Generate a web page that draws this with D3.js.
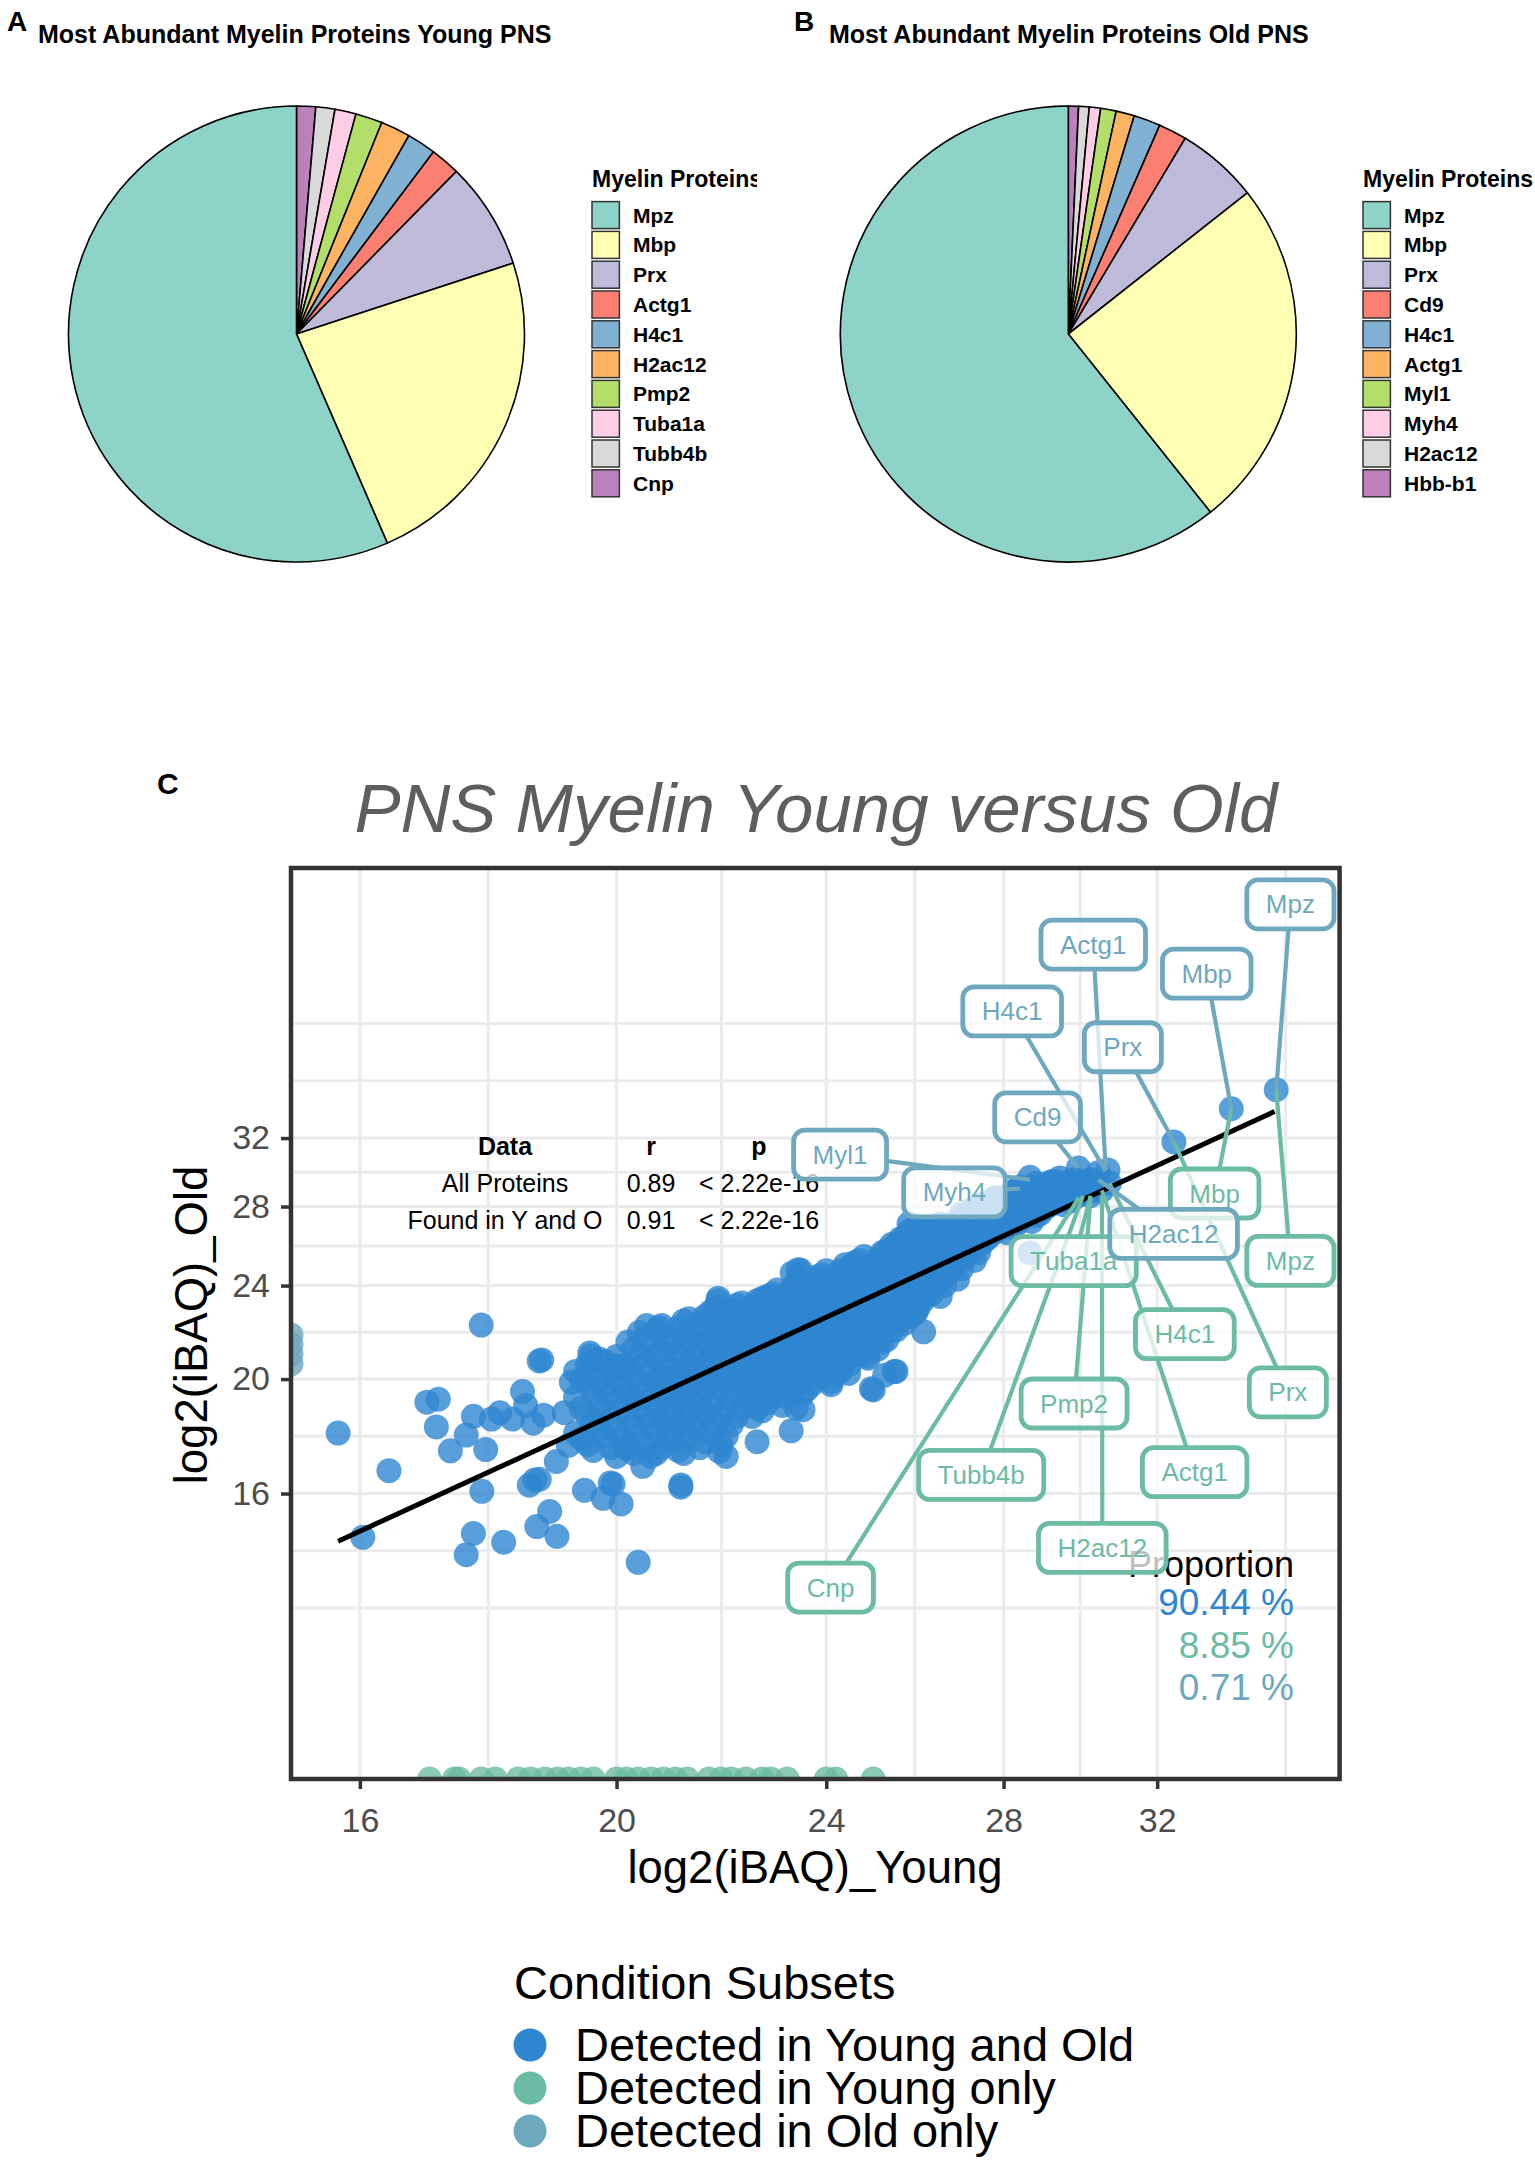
<!DOCTYPE html>
<html>
<head>
<meta charset="utf-8">
<script src="https://cdn.jsdelivr.net/npm/d3@7"></script>
<style>
  body { margin: 0; background: #fff; }
  svg text { font-family: "Liberation Sans", Arial, Helvetica, sans-serif; }
</style>
</head>
<body>
<script>
// ---------------- data ----------------
const pieColors = ['#8DD3C7', '#FFFFB3', '#BEBADA', '#FB8072', '#80B1D3', '#FDB462', '#B3DE69', '#FCCDE5', '#D9D9D9', '#BC80BD'];

const youngProteins = ['Mpz', 'Mbp', 'Prx', 'Actg1', 'H4c1', 'H2ac12', 'Pmp2', 'Tuba1a', 'Tubb4b', 'Cnp'];
const youngShare = [56.5, 23.5, 7.6, 2.1, 2.06, 2.1, 1.9, 1.5, 1.35, 1.35];

const oldProteins = ['Mpz', 'Mbp', 'Prx', 'Cd9', 'H4c1', 'Actg1', 'Myl1', 'Myh4', 'H2ac12', 'Hbb-b1'];
const oldShare = [60.7, 24.9, 5.8, 2.0, 1.9, 1.3, 1.1, 0.8, 0.75, 0.72];

// scatter: log2 iBAQ young (first value) then old values read along that column
const cloudColumns = [
  [19.3, 18.0, 19.3, 20.3],
  [19.4, 17.8, 18.9, 20.0],
  [19.5, 17.6, 18.6, 19.8, 20.6],
  [19.6, 17.4, 18.4, 19.5, 20.4],
  [19.7, 18.2, 19.0, 20.0, 20.8],
  [19.8, 17.9, 18.8, 19.7, 20.7],
  [19.9, 17.5, 18.4, 19.4, 20.3],
  [20.0, 17.2, 18.1, 19.1, 20.0, 20.9],
  [20.1, 17.8, 18.9, 19.7, 20.5],
  [20.2, 17.5, 18.5, 19.5, 20.4, 21.5],
  [20.3, 17.3, 18.3, 19.2, 20.1, 21.2],
  [20.4, 17.9, 18.9, 19.8, 20.9, 21.9],
  [20.5, 17.6, 18.6, 19.5, 20.6, 21.6],
  [20.6, 17.2, 18.3, 19.2, 20.2, 21.2],
  [20.7, 17.3, 18.1, 19.0, 19.9, 20.9, 22.0],
  [20.8, 17.5, 18.4, 19.3, 20.1, 21.1, 22.2],
  [20.9, 17.8, 18.7, 19.6, 20.4, 21.4],
  [21.0, 17.7, 18.6, 19.5, 20.4, 21.5],
  [21.1, 17.4, 18.3, 19.2, 20.1, 21.0, 22.1],
  [21.2, 17.3, 18.1, 19.0, 19.9, 20.8, 21.8, 22.4],
  [21.3, 17.9, 18.8, 19.7, 20.6, 21.6, 22.5],
  [21.4, 18.2, 19.1, 20.0, 20.9, 21.9],
  [21.5, 17.5, 18.5, 19.4, 20.2, 21.2, 22.3],
  [21.6, 17.7, 18.7, 19.6, 20.5, 21.5, 22.6],
  [21.7, 18.0, 19.0, 19.9, 20.8, 21.8, 22.8],
  [21.8, 18.3, 19.3, 20.2, 21.1, 22.1, 23.0],
  [21.9, 17.6, 18.6, 19.6, 20.4, 21.3, 22.4],
  [22.0, 17.9, 18.9, 19.9, 20.7, 21.6, 22.6],
  [22.1, 18.3, 19.2, 20.1, 21.0, 21.9, 22.9],
  [22.2, 18.6, 19.5, 20.4, 21.3, 22.2, 23.1],
  [22.3, 18.9, 19.8, 20.6, 21.5, 22.5, 23.2],
  [22.4, 19.2, 20.1, 20.9, 21.8, 22.8],
  [22.5, 18.6, 19.5, 20.3, 21.1, 22.0, 23.0],
  [22.6, 18.9, 19.8, 20.7, 21.5, 22.3, 23.3],
  [22.7, 18.8, 19.6, 20.5, 21.4, 22.4, 23.4],
  [22.8, 19.1, 19.9, 20.8, 21.7, 22.6, 23.5],
  [22.9, 19.3, 20.2, 21.0, 21.9, 22.8, 23.6],
  [23.0, 19.6, 20.5, 21.3, 22.2, 23.1, 23.8],
  [23.1, 19.0, 19.9, 20.7, 21.6, 22.5, 23.3],
  [23.2, 19.3, 20.2, 21.0, 21.9, 22.8, 23.6],
  [23.3, 19.6, 20.4, 21.2, 22.1, 23.0, 23.9],
  [23.4, 19.9, 20.7, 21.5, 22.4, 23.3, 24.2],
  [23.5, 19.4, 20.1, 20.9, 21.8, 22.7, 23.6],
  [23.6, 19.6, 20.4, 21.2, 22.1, 23.0, 23.9],
  [23.7, 19.8, 20.6, 21.5, 22.3, 23.2, 24.1],
  [23.8, 20.2, 21.0, 21.8, 22.6, 23.5, 24.4],
  [23.9, 20.1, 20.9, 21.8, 22.7, 23.5, 24.5],
  [24.0, 20.5, 21.3, 22.1, 23.0, 23.8, 24.7],
  [24.1, 19.9, 20.7, 21.6, 22.4, 23.3, 24.2],
  [24.2, 20.2, 21.0, 21.9, 22.7, 23.6, 24.5],
  [24.3, 20.3, 21.1, 22.0, 22.8, 23.7, 24.7],
  [24.4, 20.8, 21.6, 22.4, 23.2, 24.1, 25.0],
  [24.5, 20.6, 21.4, 22.3, 23.2, 24.0, 24.9],
  [24.6, 21.0, 21.8, 22.7, 23.5, 24.3, 25.1],
  [24.7, 21.0, 21.8, 22.6, 23.5, 24.4, 25.2],
  [24.8, 21.4, 22.2, 23.0, 23.9, 24.7, 25.4],
  [24.9, 21.3, 22.1, 22.9, 23.8, 24.7],
  [25.0, 21.7, 22.5, 23.3, 24.2, 25.0],
  [25.1, 21.2, 22.0, 22.8, 23.6, 24.4, 25.3],
  [25.2, 21.5, 22.3, 23.1, 24.0, 24.8, 25.6],
  [25.3, 21.6, 22.5, 23.3, 24.1, 24.9, 25.7],
  [25.4, 22.0, 22.9, 23.7, 24.5, 25.3, 26.0],
  [25.5, 22.0, 22.8, 23.6, 24.4, 25.2, 26.0],
  [25.6, 22.4, 23.2, 24.0, 24.8, 25.6, 26.3],
  [25.7, 22.3, 23.1, 24.0, 24.8, 25.6, 26.4],
  [25.8, 22.6, 23.5, 24.4, 25.2, 26.0, 26.7],
  [25.9, 22.7, 23.5, 24.3, 25.1, 25.9, 26.6],
  [26.0, 23.0, 23.9, 24.7, 25.5, 26.2, 26.9],
  [26.1, 23.3, 24.1, 24.9, 25.6, 26.3],
  [26.2, 23.6, 24.4, 25.2, 26.0, 26.7],
  [26.3, 23.6, 24.5, 25.3, 26.0, 26.8],
  [26.4, 24.0, 24.8, 25.6, 26.3, 27.0],
  [26.5, 23.5, 24.2, 25.0, 25.7, 26.5],
  [26.6, 24.0, 24.7, 25.4, 26.2, 26.9],
  [26.7, 24.6, 25.4, 26.1, 26.9],
  [26.8, 24.9, 25.7, 26.4, 27.1],
  [26.9, 24.3, 25.1, 25.8, 26.5, 27.2],
  [27.0, 24.8, 25.6, 26.3, 27.0, 27.6],
  [27.1, 25.4, 26.2, 26.9, 27.5],
  [27.2, 25.7, 26.5, 27.2, 27.8],
  [27.3, 25.2, 25.9, 26.6, 27.3, 27.9],
  [27.4, 25.6, 26.3, 27.0, 27.7, 28.1],
  [27.5, 26.1, 26.9, 27.6],
  [27.6, 26.3, 27.1, 27.8, 28.2],
  [27.7, 26.5, 27.2, 27.9, 28.3],
  [27.8, 26.7, 27.4, 28.1, 28.5],
  [27.9, 26.8, 27.5, 28.2],
  [28.0, 27.0, 27.7, 28.4],
  [28.1, 26.6, 27.3, 27.9, 28.6],
  [28.2, 26.9, 27.6, 28.3, 28.8],
  [28.3, 27.0, 27.7, 28.4, 28.9],
  [28.4, 27.3, 28.0, 28.6, 29.1],
  [28.5, 27.4, 28.1, 28.7],
  [28.6, 27.6, 28.3, 28.9],
  [28.7, 27.2, 27.8, 28.5, 29.1],
  [28.8, 27.5, 28.1, 28.7, 29.3],
  [28.9, 27.6, 28.3, 28.9],
  [29.0, 27.9, 28.5, 29.1],
  [29.1, 28.0, 28.6, 29.2],
  [29.2, 28.2, 28.8, 29.4],
  [29.3, 28.3, 28.9, 29.4],
  [29.4, 28.6, 29.1, 29.6],
  [29.5, 28.1, 28.7, 29.3],
  [29.65, 28.3, 28.9, 29.4],
  [29.8, 28.5, 29.0, 29.5],
  [29.95, 28.7, 29.2],
  [30.1, 28.8, 29.3],
  [30.2, 29.0, 29.5],
  [30.3, 28.9]
];

// scattered proteins around the main cloud [young, old]
const cloudSpread = [
  [15.70, 18.0], [16.04, 14.69], [16.41, 16.73], [16.96, 19.12], [17.13, 19.23], [17.10, 18.22],
  [17.31, 17.39], [17.55, 17.93], [17.66, 18.6], [17.78, 22.22], [17.85, 17.43], [17.79, 16.07],
  [17.94, 18.5], [18.07, 18.73], [18.27, 18.5], [18.43, 19.52], [18.48, 19.0], [18.60, 18.35],
  [18.77, 18.64], [18.70, 20.72], [18.54, 16.26], [18.70, 16.45], [18.87, 15.45], [18.66, 15.0],
  [18.99, 14.72], [17.66, 14.80], [17.55, 14.2], [18.13, 14.55], [20.38, 13.99], [21.15, 16.2],
  [19.45, 16.1], [19.77, 15.85], [19.94, 16.3], [20.08, 15.68], [19.18, 17.57], [19.11, 18.73],
  [19.23, 19.87], [19.56, 20.93], [20.0, 20.52], [20.46, 16.87], [18.98, 17.03], [20.17, 17.46],
  [21.84, 23.3], [23.3, 24.6], [23.38, 18.9], [23.28, 18.08], [21.87, 17.37], [20.53, 22.2],
  [20.75, 22.1], [23.47, 24.73], [23.52, 18.84], [24.1, 19.78], [24.47, 20.22], [24.87, 20.91],
  [24.96, 19.63], [25.46, 20.3], [25.25, 20.15], [26.12, 21.93], [25.95, 22.8], [25.74, 24.07],
  [26.51, 27.07], [25.96, 26.95], [25.79, 27.07], [27.76, 28.4], [18.74, 20.76], [19.54, 21.04],
  [21.85, 23.42], [23.42, 24.75], [24.89, 20.83], [25.5, 20.3], [25.0, 19.58], [21.15, 16.27],
  [19.89, 16.33], [18.63, 16.43], [22.6, 17.7], [22.0, 17.2]
];

// most abundant proteins at the upper end
const topProteins = [
  [35.49, 35.16], [34.13, 33.88], [32.47, 31.76], [29.88, 30.19], [30.66, 30.06], [30.4, 29.9],
  [28.65, 29.64], [29.1, 29.3], [30.2, 28.6], [30.5, 28.9], [30.7, 29.3], [27.83, 28.11], [28.65, 25.58]
];

// proteins found in one condition only (other value missing -> drawn on the axis edge)
const youngOnlyX = [17.0, 17.37, 17.44, 17.78, 18.0, 18.36, 18.56, 18.79, 19.0, 19.18, 19.39, 19.6,
  20.0, 20.17, 20.38, 20.61, 20.83, 21.05, 21.27, 21.67, 21.9, 22.1, 22.38, 22.7, 22.87, 23.2, 24.0, 24.2, 25.0];
const oldOnlyY = [21.8, 21.4, 21.0, 20.6];

// linear fit end points
const fitX = [15.7, 35.44];
const fitY = [14.58, 33.7];

// labelled proteins: target point and label position (data units)
const youngTopNames = ['Mbp', 'Mpz', 'Tuba1a', 'H4c1', 'Prx', 'Pmp2', 'Tubb4b', 'Actg1', 'H2ac12', 'Cnp'];
const youngTopPoint = [[34.13, 33.88], [35.49, 35.16], [30.2, 28.6], [30.7, 29.3], [32.47, 31.76],
  [30.2, 28.5], [30.0, 28.6], [30.5, 28.9], [30.5, 28.6], [29.9, 28.5]];
const youngTopLabelAt = [[33.64, 28.72], [35.93, 25.18], [29.76, 25.17], [32.78, 21.83], [35.85, 19.49],
  [29.77, 19.07], [27.46, 16.59], [33.06, 16.68], [30.51, 14.39], [24.09, 13.32]];

const oldTopNames = ['Mpz', 'Actg1', 'Mbp', 'H4c1', 'Prx', 'Cd9', 'Myl1', 'Myh4', 'H2ac12'];
const oldTopPoint = [[35.49, 35.16], [30.6, 30.1], [34.13, 33.88], [30.6, 30.0], [32.47, 31.76],
  [29.88, 30.19], [28.65, 29.5], [28.4, 29.0], [30.4, 29.5]];
const oldTopLabelAt = [[35.93, 50.47], [30.27, 46.66], [33.41, 44.09], [28.21, 40.96], [31.06, 38.2],
  [28.84, 33.32], [24.29, 30.98], [26.83, 28.78], [32.46, 26.55]];

const tableHead = ['Data', 'r', 'p'];
const tableRows = [['All Proteins', '0.89', '< 2.22e-16'], ['Found in Y and O', '0.91', '< 2.22e-16']];

const subsetNames = ['Detected in Young and Old', 'Detected in Young only', 'Detected in Old only'];
const subsetColors = ['#2e86d1', '#6cbba4', '#6ea8be'];
const subsetShare = ['90.44 %', '8.85 %', '0.71 %'];

const xTicks = [16, 20, 24, 28, 32];
const yTicks = [16, 20, 24, 28, 32];
const xGridBreaks = [16, 17.89, 20, 21.91, 24, 25.92, 28, 29.93, 32, 35.78];
const yGridBreaks = [12.8, 14.31, 16, 17.89, 20, 21.91, 24, 25.92, 28, 29.93, 32, 35.78, 40];

// ---------------- figure ----------------
const svg = d3.select('body').append('svg')
  .attr('width', 1535)
  .attr('height', 2169);

const defs = svg.append('defs');
defs.append('clipPath').attr('id', 'clipA')
  .append('rect').attr('x', 0).attr('y', 0).attr('width', 757).attr('height', 640);
defs.append('clipPath').attr('id', 'clipC')
  .append('rect').attr('x', 291).attr('y', 868).attr('width', 1048.6).attr('height', 911);

function drawPie(parent, letter, letterX, title, titleX, names, shares, cx, legendX) {
  const g = parent.append('g');
  g.append('text').attr('x', letterX).attr('y', 31)
    .attr('font-size', 28).attr('font-weight', 'bold').text(letter);
  g.append('text').attr('x', titleX).attr('y', 43)
    .attr('font-size', 25).attr('font-weight', 'bold').text(title);

  // ggplot polar pies start at 12 o'clock with the last level
  const slices = names.map((n, i) => ({ name: n, value: shares[i], color: pieColors[i] })).reverse();
  const arcs = d3.pie().sort(null).value(d => d.value)(slices);
  const arc = d3.arc().innerRadius(0).outerRadius(228);

  g.append('g')
    .attr('transform', `translate(${cx},334)`)
    .selectAll('path')
    .data(arcs)
    .join('path')
    .attr('d', arc)
    .attr('fill', d => d.data.color)
    .attr('stroke', '#000')
    .attr('stroke-width', 1.6);

  const lg = g.append('g').attr('transform', `translate(${legendX},0)`);
  lg.append('text').attr('x', 0).attr('y', 187)
    .attr('font-size', 23).attr('font-weight', 'bold').text('Myelin Proteins');
  const rows = lg.selectAll('g.key')
    .data(names)
    .join('g')
    .attr('class', 'key')
    .attr('transform', (d, i) => `translate(0,${201.6 + i * 29.8})`);
  rows.append('rect')
    .attr('width', 27.4).attr('height', 27)
    .attr('fill', (d, i) => pieColors[i])
    .attr('stroke', '#333').attr('stroke-width', 1.5);
  rows.append('text')
    .attr('x', 41).attr('y', 21)
    .attr('font-size', 21).attr('font-weight', 'bold')
    .text(d => d);
}

drawPie(svg.append('g').attr('clip-path', 'url(#clipA)'), 'A', 7,
  'Most Abundant Myelin Proteins Young PNS', 38, youngProteins, youngShare, 296.5, 592);
drawPie(svg.append('g'), 'B', 794,
  'Most Abundant Myelin Proteins Old PNS', 829, oldProteins, oldShare, 1068.3, 1363);

// ---------------- scatter C ----------------
const x = d3.scaleLog().domain([15.07, 37.5]).range([291, 1339.6]);
const y = d3.scaleLog().domain([9.17, 54.18]).range([1779, 868]);

const plot = svg.append('g');

plot.append('text').attr('x', 157).attr('y', 794)
  .attr('font-size', 30).attr('font-weight', 'bold').text('C');
plot.append('text').attr('x', 816).attr('y', 832)
  .attr('text-anchor', 'middle')
  .attr('font-size', 69).attr('font-style', 'italic')
  .attr('fill', '#5e5e5e')
  .text('PNS Myelin Young versus Old');

// grid
const grid = plot.append('g').attr('stroke', '#ebebeb').attr('stroke-width', 3);
grid.selectAll('line.v').data(xGridBreaks).join('line').attr('class', 'v')
  .attr('x1', d => x(d)).attr('x2', d => x(d)).attr('y1', 868).attr('y2', 1779);
grid.selectAll('line.h').data(yGridBreaks).join('line').attr('class', 'h')
  .attr('x1', 291).attr('x2', 1339.6).attr('y1', d => y(d)).attr('y2', d => y(d));

// points
const bothDetected = cloudColumns.flatMap(c => c.slice(1).map(v => [c[0], v]))
  .concat(cloudSpread, topProteins);

const pts = plot.append('g').attr('clip-path', 'url(#clipC)');
pts.selectAll('circle.yo')
  .data(youngOnlyX)
  .join('circle')
  .attr('class', 'yo')
  .attr('cx', d => x(d)).attr('cy', y(y.domain()[0]))
  .attr('r', 12.5).attr('fill', subsetColors[1]).attr('fill-opacity', 0.8);
pts.selectAll('circle.oo')
  .data(oldOnlyY)
  .join('circle')
  .attr('class', 'oo')
  .attr('cx', x(x.domain()[0])).attr('cy', d => y(d))
  .attr('r', 12.5).attr('fill', subsetColors[2]).attr('fill-opacity', 0.8);
pts.selectAll('circle.both')
  .data(bothDetected)
  .join('circle')
  .attr('class', 'both')
  .attr('cx', d => x(d[0])).attr('cy', d => y(d[1]))
  .attr('r', 12.5).attr('fill', subsetColors[0]).attr('fill-opacity', 0.8);

// fit line
plot.append('line')
  .attr('x1', x(fitX[0])).attr('y1', y(fitY[0]))
  .attr('x2', x(fitX[1])).attr('y2', y(fitY[1]))
  .attr('stroke', '#000').attr('stroke-width', 5);

// correlation table
const tableColX = [505, 651, 759];
tableHead.forEach((t, i) => {
  plot.append('text').attr('x', tableColX[i]).attr('y', 1155)
    .attr('text-anchor', 'middle').attr('font-size', 25).attr('font-weight', 'bold').text(t);
});
tableRows.forEach((row, r) => {
  row.forEach((t, i) => {
    plot.append('text').attr('x', tableColX[i]).attr('y', 1192 + r * 37)
      .attr('text-anchor', 'middle').attr('font-size', 25).text(t);
  });
});

// proportions
plot.append('text').attr('x', 1294).attr('y', 1577)
  .attr('text-anchor', 'end').attr('font-size', 36).attr('fill', '#000').text('Proportion');
subsetShare.forEach((t, i) => {
  plot.append('text').attr('x', 1294).attr('y', 1615 + i * 42.5)
    .attr('text-anchor', 'end').attr('font-size', 37)
    .attr('fill', subsetColors[i]).text(t);
});

// repelled labels
function drawRepel(names, targets, at, color) {
  const g = plot.append('g');
  const segs = g.append('g');
  const boxes = g.append('g');
  names.forEach((n, i) => {
    const px = x(targets[i][0]), py = y(targets[i][1]);
    const cx = x(at[i][0]), cy = y(at[i][1]);
    const b = boxes.append('g');
    const t = b.append('text')
      .attr('x', cx).attr('y', cy + 9)
      .attr('text-anchor', 'middle')
      .attr('font-size', 26).attr('fill', color)
      .text(n);
    const hw = t.node().getComputedTextLength() / 2 + 19;
    const hh = 24.5;
    b.insert('rect', 'text')
      .attr('x', cx - hw).attr('y', cy - hh)
      .attr('width', 2 * hw).attr('height', 2 * hh)
      .attr('rx', 11)
      .attr('fill', '#fff').attr('fill-opacity', 0.75)
      .attr('stroke', color).attr('stroke-width', 4.8);
    const dx = px - cx, dy = py - cy;
    const s = Math.min(hw / Math.max(Math.abs(dx), 1e-6), hh / Math.max(Math.abs(dy), 1e-6));
    if (s < 1) {
      segs.append('line')
        .attr('x1', cx + dx * s).attr('y1', cy + dy * s)
        .attr('x2', px).attr('y2', py)
        .attr('stroke', color).attr('stroke-width', 4.2);
    }
  });
}
drawRepel(youngTopNames, youngTopPoint, youngTopLabelAt, subsetColors[1]);
drawRepel(oldTopNames, oldTopPoint, oldTopLabelAt, subsetColors[2]);

// panel border
plot.append('rect')
  .attr('x', 291).attr('y', 868).attr('width', 1048.6).attr('height', 911)
  .attr('fill', 'none').attr('stroke', '#333').attr('stroke-width', 4.5);

// axes
const xAxis = plot.append('g')
  .attr('transform', 'translate(0,1779)')
  .call(d3.axisBottom(x).tickValues(xTicks).tickFormat(d3.format('d')).tickSize(10).tickPadding(19));
const yAxis = plot.append('g')
  .attr('transform', 'translate(291,0)')
  .call(d3.axisLeft(y).tickValues(yTicks).tickFormat(d3.format('d')).tickSize(10).tickPadding(11));
[xAxis, yAxis].forEach(a => {
  a.attr('font-family', '"Liberation Sans", Arial, sans-serif');
  a.select('.domain').remove();
  a.selectAll('.tick line').attr('stroke', '#333').attr('stroke-width', 3.5);
  a.selectAll('.tick text').attr('font-size', 34).attr('fill', '#4d4d4d');
});

plot.append('text').attr('x', 815).attr('y', 1883)
  .attr('text-anchor', 'middle').attr('font-size', 45.5).text('log2(iBAQ)_Young');
plot.append('text')
  .attr('transform', 'translate(207,1325) rotate(-90)')
  .attr('text-anchor', 'middle').attr('font-size', 45.5).text('log2(iBAQ)_Old');

// legend
const leg = svg.append('g');
leg.append('text').attr('x', 514).attr('y', 1999).attr('font-size', 47).text('Condition Subsets');
const legRows = leg.selectAll('g.item')
  .data(subsetNames)
  .join('g')
  .attr('class', 'item')
  .attr('transform', (d, i) => `translate(0,${2045 + i * 43})`);
legRows.append('circle')
  .attr('cx', 530).attr('cy', 0).attr('r', 16.5)
  .attr('fill', (d, i) => subsetColors[i]);
legRows.append('text')
  .attr('x', 575).attr('y', 16)
  .attr('font-size', 47)
  .text(d => d);
</script>
</body>
</html>
